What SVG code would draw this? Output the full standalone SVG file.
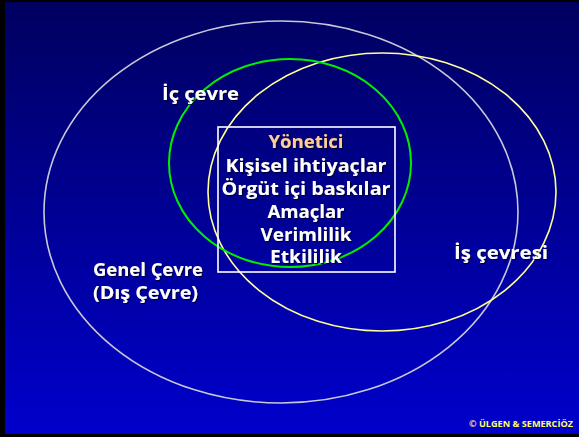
<svg xmlns="http://www.w3.org/2000/svg" width="579" height="437" viewBox="0 0 579 437">
  <defs>
    <linearGradient id="bg" x1="0" y1="0" x2="0" y2="1">
      <stop offset="0" stop-color="#000060"/>
      <stop offset="1" stop-color="#0000CC"/>
    </linearGradient>
    <filter id="sh" x="-10%" y="-30%" width="120%" height="160%">
      <feDropShadow dx="1.2" dy="1.2" stdDeviation="0.4" flood-color="#000033" flood-opacity="0.9"/>
    </filter>
    <style>
      .t { font-family: "Comic Sans MS", "Open Sans", "DejaVu Sans", sans-serif; font-weight: bold; fill: #FFFFFF; filter: url(#sh); }
      .m { text-anchor: middle; font-size: 18px; }
      .lbl { font-size: 17px; }
      .ring { fill: none; }
    </style>
  </defs>

  <rect x="0" y="0" width="579" height="437" fill="#000000"/>
  <rect x="5" y="2" width="574" height="432" fill="url(#bg)"/>

  <g id="genel-cevre">
    <ellipse class="ring" cx="281" cy="212" rx="237" ry="191" stroke="#C8C8D8" stroke-width="1.6"/>
    <text class="t lbl" x="93" y="276" textLength="110" lengthAdjust="spacingAndGlyphs">Genel Çevre</text>
    <text class="t lbl" x="93" y="299" textLength="105" lengthAdjust="spacingAndGlyphs">(Dış Çevre)</text>
  </g>

  <g id="is-cevresi">
    <ellipse class="ring" cx="382" cy="192" rx="174" ry="139" stroke="#FFFF99" stroke-width="1.6"/>
    <text class="t lbl" x="454" y="259" textLength="94" lengthAdjust="spacingAndGlyphs">İş çevresi</text>
  </g>

  <g id="ic-cevre">
    <ellipse class="ring" cx="290" cy="163" rx="121" ry="104" stroke="#00EE00" stroke-width="2"/>
    <text class="t lbl" x="162" y="100" textLength="77" lengthAdjust="spacingAndGlyphs">İç çevre</text>
  </g>

  <g id="yonetici">
    <rect x="218" y="127" width="177" height="145" fill="none" stroke="#FFFFFF" stroke-width="1.6"/>
    <text class="t m" x="306" y="148" fill="#FFCC99" style="fill:#FFCC99" textLength="75" lengthAdjust="spacingAndGlyphs">Yönetici</text>
    <text class="t m" x="306" y="172" textLength="161" lengthAdjust="spacingAndGlyphs">Kişisel ihtiyaçlar</text>
    <text class="t m" x="306" y="195" textLength="169" lengthAdjust="spacingAndGlyphs">Örgüt içi baskılar</text>
    <text class="t m" x="306" y="218" textLength="77" lengthAdjust="spacingAndGlyphs">Amaçlar</text>
    <text class="t m" x="306" y="241" textLength="91" lengthAdjust="spacingAndGlyphs">Verimlilik</text>
    <text class="t m" x="306" y="263" textLength="72" lengthAdjust="spacingAndGlyphs">Etkililik</text>
  </g>

  <g id="copyright">
    <text x="469" y="427" font-family="'Comic Sans MS', 'Open Sans', sans-serif" font-weight="bold" font-size="8" fill="#FFFF66" textLength="104" lengthAdjust="spacingAndGlyphs">© ÜLGEN &amp; SEMERCİÖZ</text>
  </g>
</svg>
